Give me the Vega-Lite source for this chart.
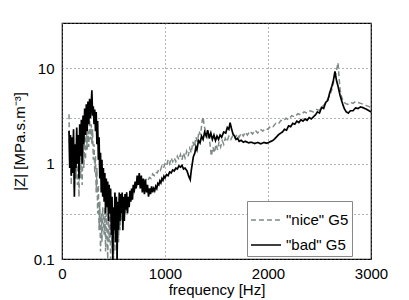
{
  "$schema": "https://vega.github.io/schema/vega-lite/v6.json",
  "width": 309,
  "height": 236,
  "autosize": "none",
  "padding": {"left": 62, "top": 23, "right": 38, "bottom": 41},
  "background": "white",
  "config": {
    "font": "Liberation Sans",
    "view": {"stroke": "#000", "strokeWidth": 1.2},
    "axis": {"labelFont": "Liberation Sans", "titleFont": "Liberation Sans", "labelFontSize": 15, "titleFontSize": 15, "titleFontWeight": "normal", "labelColor": "#000", "titleColor": "#000", "domain": false, "ticks": false, "grid": true, "gridColor": "#666", "gridDash": [1, 3], "gridWidth": 1, "gridOpacity": 1}
  },
  "datasets": {
    "d": [
      {"f":68,"z":3.3,"s":"nice"},{"f":75,"z":1.0,"s":"nice"},{"f":82,"z":1.8,"s":"nice"},{"f":90,"z":0.6,"s":"nice"},{"f":97,"z":1.5,"s":"nice"},{"f":104,"z":0.9,"s":"nice"},{"f":112,"z":1.6,"s":"nice"},{"f":120,"z":0.55,"s":"nice"},{"f":128,"z":1.2,"s":"nice"},{"f":135,"z":0.7,"s":"nice"},{"f":143,"z":1.5,"s":"nice"},{"f":150,"z":0.6,"s":"nice"},{"f":158,"z":1.2,"s":"nice"},{"f":165,"z":0.45,"s":"nice"},{"f":172,"z":1.3,"s":"nice"},{"f":180,"z":0.7,"s":"nice"},{"f":188,"z":1.5,"s":"nice"},{"f":196,"z":0.6,"s":"nice"},{"f":204,"z":1.8,"s":"nice"},{"f":212,"z":0.9,"s":"nice"},{"f":220,"z":2.0,"s":"nice"},{"f":228,"z":1.1,"s":"nice"},{"f":236,"z":2.5,"s":"nice"},{"f":244,"z":1.4,"s":"nice"},{"f":252,"z":2.2,"s":"nice"},{"f":260,"z":1.5,"s":"nice"},{"f":268,"z":2.9,"s":"nice"},{"f":276,"z":1.8,"s":"nice"},{"f":284,"z":2.6,"s":"nice"},{"f":290,"z":1.6,"s":"nice"},{"f":297,"z":2.3,"s":"nice"},{"f":304,"z":1.1,"s":"nice"},{"f":311,"z":1.6,"s":"nice"},{"f":318,"z":0.8,"s":"nice"},{"f":325,"z":1.2,"s":"nice"},{"f":332,"z":0.5,"s":"nice"},{"f":339,"z":0.9,"s":"nice"},{"f":346,"z":0.3,"s":"nice"},{"f":353,"z":0.6,"s":"nice"},{"f":360,"z":0.2,"s":"nice"},{"f":367,"z":0.4,"s":"nice"},{"f":374,"z":0.12,"s":"nice"},{"f":381,"z":0.3,"s":"nice"},{"f":388,"z":0.15,"s":"nice"},{"f":395,"z":0.35,"s":"nice"},{"f":402,"z":0.25,"s":"nice"},{"f":409,"z":0.18,"s":"nice"},{"f":416,"z":0.35,"s":"nice"},{"f":423,"z":0.12,"s":"nice"},{"f":430,"z":0.3,"s":"nice"},{"f":437,"z":0.2,"s":"nice"},{"f":444,"z":0.1,"s":"nice"},{"f":451,"z":0.28,"s":"nice"},{"f":458,"z":0.15,"s":"nice"},{"f":465,"z":0.35,"s":"nice"},{"f":472,"z":0.1,"s":"nice"},{"f":479,"z":0.3,"s":"nice"},{"f":486,"z":0.13,"s":"nice"},{"f":493,"z":0.25,"s":"nice"},{"f":500,"z":0.1,"s":"nice"},{"f":507,"z":0.3,"s":"nice"},{"f":514,"z":0.12,"s":"nice"},{"f":521,"z":0.35,"s":"nice"},{"f":528,"z":0.2,"s":"nice"},{"f":535,"z":0.1,"s":"nice"},{"f":542,"z":0.3,"s":"nice"},{"f":549,"z":0.15,"s":"nice"},{"f":556,"z":0.35,"s":"nice"},{"f":563,"z":0.2,"s":"nice"},{"f":570,"z":0.38,"s":"nice"},{"f":577,"z":0.25,"s":"nice"},{"f":584,"z":0.4,"s":"nice"},{"f":591,"z":0.28,"s":"nice"},{"f":598,"z":0.42,"s":"nice"},{"f":605,"z":0.3,"s":"nice"},{"f":612,"z":0.35,"s":"nice"},{"f":620,"z":0.3,"s":"nice"},{"f":630,"z":0.35,"s":"nice"},{"f":640,"z":0.38,"s":"nice"},{"f":650,"z":0.42,"s":"nice"},{"f":660,"z":0.4,"s":"nice"},{"f":670,"z":0.45,"s":"nice"},{"f":680,"z":0.48,"s":"nice"},{"f":690,"z":0.53,"s":"nice"},{"f":700,"z":0.5,"s":"nice"},{"f":715,"z":0.56,"s":"nice"},{"f":730,"z":0.6,"s":"nice"},{"f":745,"z":0.58,"s":"nice"},{"f":760,"z":0.63,"s":"nice"},{"f":775,"z":0.62,"s":"nice"},{"f":790,"z":0.66,"s":"nice"},{"f":805,"z":0.64,"s":"nice"},{"f":820,"z":0.7,"s":"nice"},{"f":835,"z":0.67,"s":"nice"},{"f":850,"z":0.72,"s":"nice"},{"f":865,"z":0.7,"s":"nice"},{"f":880,"z":0.78,"s":"nice"},{"f":895,"z":0.75,"s":"nice"},{"f":910,"z":0.82,"s":"nice"},{"f":925,"z":0.8,"s":"nice"},{"f":940,"z":0.88,"s":"nice"},{"f":955,"z":0.85,"s":"nice"},{"f":970,"z":0.95,"s":"nice"},{"f":985,"z":0.9,"s":"nice"},{"f":1000,"z":1.0,"s":"nice"},{"f":1015,"z":0.95,"s":"nice"},{"f":1030,"z":1.1,"s":"nice"},{"f":1045,"z":1.0,"s":"nice"},{"f":1060,"z":1.15,"s":"nice"},{"f":1075,"z":1.05,"s":"nice"},{"f":1090,"z":1.15,"s":"nice"},{"f":1105,"z":1.05,"s":"nice"},{"f":1120,"z":1.2,"s":"nice"},{"f":1135,"z":1.1,"s":"nice"},{"f":1150,"z":1.25,"s":"nice"},{"f":1165,"z":1.1,"s":"nice"},{"f":1180,"z":1.3,"s":"nice"},{"f":1195,"z":1.15,"s":"nice"},{"f":1210,"z":1.35,"s":"nice"},{"f":1225,"z":1.2,"s":"nice"},{"f":1240,"z":1.45,"s":"nice"},{"f":1255,"z":1.3,"s":"nice"},{"f":1270,"z":1.7,"s":"nice"},{"f":1285,"z":1.5,"s":"nice"},{"f":1300,"z":1.9,"s":"nice"},{"f":1315,"z":1.7,"s":"nice"},{"f":1330,"z":2.2,"s":"nice"},{"f":1345,"z":2.0,"s":"nice"},{"f":1360,"z":2.8,"s":"nice"},{"f":1370,"z":3.1,"s":"nice"},{"f":1380,"z":2.5,"s":"nice"},{"f":1395,"z":2.2,"s":"nice"},{"f":1410,"z":1.9,"s":"nice"},{"f":1425,"z":2.1,"s":"nice"},{"f":1437,"z":1.6,"s":"nice"},{"f":1450,"z":1.2,"s":"nice"},{"f":1465,"z":1.5,"s":"nice"},{"f":1480,"z":1.3,"s":"nice"},{"f":1495,"z":1.6,"s":"nice"},{"f":1510,"z":1.4,"s":"nice"},{"f":1525,"z":1.7,"s":"nice"},{"f":1540,"z":1.5,"s":"nice"},{"f":1555,"z":1.75,"s":"nice"},{"f":1570,"z":1.6,"s":"nice"},{"f":1585,"z":1.85,"s":"nice"},{"f":1600,"z":1.7,"s":"nice"},{"f":1620,"z":1.95,"s":"nice"},{"f":1640,"z":1.8,"s":"nice"},{"f":1660,"z":2.0,"s":"nice"},{"f":1680,"z":1.85,"s":"nice"},{"f":1700,"z":2.05,"s":"nice"},{"f":1720,"z":1.9,"s":"nice"},{"f":1740,"z":2.1,"s":"nice"},{"f":1760,"z":1.95,"s":"nice"},{"f":1780,"z":2.15,"s":"nice"},{"f":1800,"z":2.0,"s":"nice"},{"f":1825,"z":2.2,"s":"nice"},{"f":1850,"z":2.05,"s":"nice"},{"f":1875,"z":2.25,"s":"nice"},{"f":1900,"z":2.1,"s":"nice"},{"f":1925,"z":2.3,"s":"nice"},{"f":1950,"z":2.2,"s":"nice"},{"f":1975,"z":2.35,"s":"nice"},{"f":2000,"z":2.3,"s":"nice"},{"f":2025,"z":2.5,"s":"nice"},{"f":2050,"z":2.45,"s":"nice"},{"f":2075,"z":2.65,"s":"nice"},{"f":2100,"z":2.6,"s":"nice"},{"f":2125,"z":2.85,"s":"nice"},{"f":2150,"z":2.8,"s":"nice"},{"f":2175,"z":3.0,"s":"nice"},{"f":2200,"z":2.9,"s":"nice"},{"f":2230,"z":3.2,"s":"nice"},{"f":2260,"z":3.1,"s":"nice"},{"f":2290,"z":3.35,"s":"nice"},{"f":2320,"z":3.25,"s":"nice"},{"f":2350,"z":3.5,"s":"nice"},{"f":2380,"z":3.4,"s":"nice"},{"f":2410,"z":3.6,"s":"nice"},{"f":2440,"z":3.5,"s":"nice"},{"f":2470,"z":3.7,"s":"nice"},{"f":2500,"z":3.65,"s":"nice"},{"f":2530,"z":4.0,"s":"nice"},{"f":2560,"z":4.3,"s":"nice"},{"f":2580,"z":4.8,"s":"nice"},{"f":2600,"z":5.2,"s":"nice"},{"f":2620,"z":6.0,"s":"nice"},{"f":2640,"z":7.5,"s":"nice"},{"f":2660,"z":9.0,"s":"nice"},{"f":2680,"z":11.5,"s":"nice"},{"f":2690,"z":8.0,"s":"nice"},{"f":2700,"z":6.0,"s":"nice"},{"f":2715,"z":5.0,"s":"nice"},{"f":2730,"z":4.6,"s":"nice"},{"f":2750,"z":4.3,"s":"nice"},{"f":2775,"z":4.2,"s":"nice"},{"f":2800,"z":4.4,"s":"nice"},{"f":2825,"z":4.3,"s":"nice"},{"f":2850,"z":4.5,"s":"nice"},{"f":2875,"z":4.4,"s":"nice"},{"f":2900,"z":4.3,"s":"nice"},{"f":2925,"z":4.2,"s":"nice"},{"f":2950,"z":4.1,"s":"nice"},{"f":2975,"z":4.0,"s":"nice"},{"f":3000,"z":3.9,"s":"nice"},
      {"f":68,"z":2.2,"s":"bad"},{"f":75,"z":0.9,"s":"bad"},{"f":82,"z":2.0,"s":"bad"},{"f":90,"z":0.75,"s":"bad"},{"f":97,"z":1.9,"s":"bad"},{"f":104,"z":0.8,"s":"bad"},{"f":112,"z":2.3,"s":"bad"},{"f":120,"z":0.45,"s":"bad"},{"f":128,"z":1.6,"s":"bad"},{"f":135,"z":0.9,"s":"bad"},{"f":143,"z":2.4,"s":"bad"},{"f":150,"z":1.0,"s":"bad"},{"f":158,"z":2.0,"s":"bad"},{"f":165,"z":0.7,"s":"bad"},{"f":172,"z":2.6,"s":"bad"},{"f":180,"z":1.2,"s":"bad"},{"f":188,"z":2.9,"s":"bad"},{"f":196,"z":1.0,"s":"bad"},{"f":204,"z":3.2,"s":"bad"},{"f":212,"z":1.6,"s":"bad"},{"f":220,"z":3.8,"s":"bad"},{"f":228,"z":2.0,"s":"bad"},{"f":236,"z":4.2,"s":"bad"},{"f":244,"z":2.2,"s":"bad"},{"f":252,"z":4.5,"s":"bad"},{"f":260,"z":2.6,"s":"bad"},{"f":268,"z":4.8,"s":"bad"},{"f":276,"z":3.0,"s":"bad"},{"f":284,"z":4.3,"s":"bad"},{"f":290,"z":5.9,"s":"bad"},{"f":297,"z":3.2,"s":"bad"},{"f":304,"z":4.0,"s":"bad"},{"f":311,"z":2.6,"s":"bad"},{"f":318,"z":3.7,"s":"bad"},{"f":325,"z":2.2,"s":"bad"},{"f":332,"z":3.5,"s":"bad"},{"f":339,"z":1.6,"s":"bad"},{"f":346,"z":2.8,"s":"bad"},{"f":353,"z":1.1,"s":"bad"},{"f":360,"z":1.9,"s":"bad"},{"f":367,"z":0.7,"s":"bad"},{"f":374,"z":1.3,"s":"bad"},{"f":381,"z":0.5,"s":"bad"},{"f":388,"z":1.1,"s":"bad"},{"f":395,"z":0.45,"s":"bad"},{"f":402,"z":0.9,"s":"bad"},{"f":409,"z":0.4,"s":"bad"},{"f":416,"z":0.8,"s":"bad"},{"f":423,"z":0.3,"s":"bad"},{"f":430,"z":0.7,"s":"bad"},{"f":437,"z":0.35,"s":"bad"},{"f":444,"z":0.65,"s":"bad"},{"f":451,"z":0.25,"s":"bad"},{"f":458,"z":0.6,"s":"bad"},{"f":465,"z":0.3,"s":"bad"},{"f":472,"z":0.55,"s":"bad"},{"f":479,"z":0.18,"s":"bad"},{"f":486,"z":0.45,"s":"bad"},{"f":493,"z":0.1,"s":"bad"},{"f":500,"z":0.35,"s":"bad"},{"f":507,"z":0.2,"s":"bad"},{"f":514,"z":0.5,"s":"bad"},{"f":521,"z":0.15,"s":"bad"},{"f":528,"z":0.45,"s":"bad"},{"f":535,"z":0.1,"s":"bad"},{"f":542,"z":0.4,"s":"bad"},{"f":549,"z":0.2,"s":"bad"},{"f":556,"z":0.5,"s":"bad"},{"f":563,"z":0.25,"s":"bad"},{"f":570,"z":0.48,"s":"bad"},{"f":577,"z":0.3,"s":"bad"},{"f":584,"z":0.5,"s":"bad"},{"f":591,"z":0.2,"s":"bad"},{"f":598,"z":0.45,"s":"bad"},{"f":605,"z":0.25,"s":"bad"},{"f":612,"z":0.48,"s":"bad"},{"f":620,"z":0.33,"s":"bad"},{"f":628,"z":0.5,"s":"bad"},{"f":636,"z":0.3,"s":"bad"},{"f":644,"z":0.45,"s":"bad"},{"f":652,"z":0.35,"s":"bad"},{"f":660,"z":0.52,"s":"bad"},{"f":668,"z":0.4,"s":"bad"},{"f":676,"z":0.55,"s":"bad"},{"f":684,"z":0.42,"s":"bad"},{"f":692,"z":0.6,"s":"bad"},{"f":700,"z":0.5,"s":"bad"},{"f":710,"z":0.65,"s":"bad"},{"f":720,"z":0.55,"s":"bad"},{"f":730,"z":0.75,"s":"bad"},{"f":740,"z":0.6,"s":"bad"},{"f":750,"z":0.8,"s":"bad"},{"f":760,"z":0.55,"s":"bad"},{"f":770,"z":0.75,"s":"bad"},{"f":780,"z":0.5,"s":"bad"},{"f":790,"z":0.7,"s":"bad"},{"f":800,"z":0.48,"s":"bad"},{"f":810,"z":0.68,"s":"bad"},{"f":820,"z":0.5,"s":"bad"},{"f":830,"z":0.6,"s":"bad"},{"f":840,"z":0.45,"s":"bad"},{"f":850,"z":0.55,"s":"bad"},{"f":860,"z":0.48,"s":"bad"},{"f":870,"z":0.58,"s":"bad"},{"f":880,"z":0.5,"s":"bad"},{"f":890,"z":0.55,"s":"bad"},{"f":900,"z":0.52,"s":"bad"},{"f":910,"z":0.58,"s":"bad"},{"f":920,"z":0.55,"s":"bad"},{"f":930,"z":0.62,"s":"bad"},{"f":940,"z":0.6,"s":"bad"},{"f":950,"z":0.66,"s":"bad"},{"f":960,"z":0.63,"s":"bad"},{"f":970,"z":0.7,"s":"bad"},{"f":980,"z":0.67,"s":"bad"},{"f":990,"z":0.74,"s":"bad"},{"f":1000,"z":0.71,"s":"bad"},{"f":1015,"z":0.77,"s":"bad"},{"f":1030,"z":0.75,"s":"bad"},{"f":1045,"z":0.82,"s":"bad"},{"f":1060,"z":0.8,"s":"bad"},{"f":1075,"z":0.86,"s":"bad"},{"f":1090,"z":0.84,"s":"bad"},{"f":1105,"z":0.9,"s":"bad"},{"f":1120,"z":0.88,"s":"bad"},{"f":1135,"z":0.95,"s":"bad"},{"f":1150,"z":0.92,"s":"bad"},{"f":1165,"z":0.96,"s":"bad"},{"f":1180,"z":0.88,"s":"bad"},{"f":1195,"z":0.9,"s":"bad"},{"f":1214,"z":0.84,"s":"bad"},{"f":1230,"z":0.74,"s":"bad"},{"f":1245,"z":0.68,"s":"bad"},{"f":1255,"z":0.85,"s":"bad"},{"f":1265,"z":1.0,"s":"bad"},{"f":1275,"z":1.18,"s":"bad"},{"f":1290,"z":1.3,"s":"bad"},{"f":1300,"z":1.5,"s":"bad"},{"f":1310,"z":1.4,"s":"bad"},{"f":1325,"z":1.75,"s":"bad"},{"f":1340,"z":1.65,"s":"bad"},{"f":1355,"z":1.95,"s":"bad"},{"f":1370,"z":1.8,"s":"bad"},{"f":1385,"z":2.15,"s":"bad"},{"f":1400,"z":1.95,"s":"bad"},{"f":1415,"z":2.25,"s":"bad"},{"f":1430,"z":1.85,"s":"bad"},{"f":1445,"z":2.1,"s":"bad"},{"f":1460,"z":1.8,"s":"bad"},{"f":1475,"z":2.0,"s":"bad"},{"f":1490,"z":1.75,"s":"bad"},{"f":1505,"z":1.95,"s":"bad"},{"f":1520,"z":1.8,"s":"bad"},{"f":1535,"z":2.0,"s":"bad"},{"f":1550,"z":1.9,"s":"bad"},{"f":1570,"z":2.15,"s":"bad"},{"f":1590,"z":2.1,"s":"bad"},{"f":1605,"z":2.4,"s":"bad"},{"f":1620,"z":2.3,"s":"bad"},{"f":1632,"z":2.7,"s":"bad"},{"f":1645,"z":2.35,"s":"bad"},{"f":1660,"z":2.05,"s":"bad"},{"f":1675,"z":1.95,"s":"bad"},{"f":1690,"z":1.8,"s":"bad"},{"f":1705,"z":1.85,"s":"bad"},{"f":1720,"z":1.72,"s":"bad"},{"f":1740,"z":1.76,"s":"bad"},{"f":1760,"z":1.68,"s":"bad"},{"f":1780,"z":1.72,"s":"bad"},{"f":1810,"z":1.66,"s":"bad"},{"f":1840,"z":1.68,"s":"bad"},{"f":1870,"z":1.63,"s":"bad"},{"f":1900,"z":1.67,"s":"bad"},{"f":1930,"z":1.62,"s":"bad"},{"f":1960,"z":1.67,"s":"bad"},{"f":1990,"z":1.64,"s":"bad"},{"f":2020,"z":1.7,"s":"bad"},{"f":2050,"z":1.76,"s":"bad"},{"f":2080,"z":1.9,"s":"bad"},{"f":2110,"z":2.05,"s":"bad"},{"f":2140,"z":2.15,"s":"bad"},{"f":2160,"z":2.3,"s":"bad"},{"f":2180,"z":2.25,"s":"bad"},{"f":2200,"z":2.5,"s":"bad"},{"f":2220,"z":2.45,"s":"bad"},{"f":2240,"z":2.65,"s":"bad"},{"f":2260,"z":2.6,"s":"bad"},{"f":2280,"z":2.8,"s":"bad"},{"f":2300,"z":2.7,"s":"bad"},{"f":2320,"z":2.9,"s":"bad"},{"f":2340,"z":2.8,"s":"bad"},{"f":2360,"z":2.95,"s":"bad"},{"f":2380,"z":2.85,"s":"bad"},{"f":2400,"z":3.05,"s":"bad"},{"f":2420,"z":2.95,"s":"bad"},{"f":2440,"z":3.1,"s":"bad"},{"f":2460,"z":3.25,"s":"bad"},{"f":2480,"z":3.5,"s":"bad"},{"f":2500,"z":3.4,"s":"bad"},{"f":2520,"z":3.9,"s":"bad"},{"f":2540,"z":3.8,"s":"bad"},{"f":2560,"z":4.4,"s":"bad"},{"f":2580,"z":4.6,"s":"bad"},{"f":2600,"z":5.6,"s":"bad"},{"f":2620,"z":6.5,"s":"bad"},{"f":2635,"z":7.5,"s":"bad"},{"f":2650,"z":9.3,"s":"bad"},{"f":2665,"z":7.5,"s":"bad"},{"f":2680,"z":6.5,"s":"bad"},{"f":2700,"z":5.2,"s":"bad"},{"f":2720,"z":4.4,"s":"bad"},{"f":2740,"z":3.8,"s":"bad"},{"f":2760,"z":3.5,"s":"bad"},{"f":2780,"z":3.4,"s":"bad"},{"f":2800,"z":3.6,"s":"bad"},{"f":2825,"z":3.6,"s":"bad"},{"f":2850,"z":3.85,"s":"bad"},{"f":2875,"z":3.8,"s":"bad"},{"f":2900,"z":3.95,"s":"bad"},{"f":2930,"z":3.85,"s":"bad"},{"f":2960,"z":3.7,"s":"bad"},{"f":2990,"z":3.55,"s":"bad"},{"f":3000,"z":3.5,"s":"bad"}
    ]
  },
  "data": {"name": "d"},
  "encoding": {
    "x": {"field": "f", "type": "quantitative", "scale": {"domain": [0, 3000], "nice": false}, "axis": {"title": "frequency [Hz]", "values": [0, 1000, 2000, 3000], "format": "d", "labelPadding": 7, "titlePadding": 1, "labelFlush": false}},
    "y": {"field": "z", "type": "quantitative", "scale": {"type": "log", "domain": [0.1, 30], "nice": false}, "axis": {"title": "|Z| [MPa.s.m⁻³]", "values": [0.1, 0.3, 1, 3, 10, 30], "labelExpr": "datum.value == 0.1 ? '0.1' : datum.value == 1 ? '1' : datum.value == 10 ? '10' : ''", "labelPadding": 8, "titlePadding": 6, "labelFlush": false}},
    "color": {"field": "s", "type": "nominal", "scale": {"domain": ["nice", "bad"], "range": ["#7f8b88", "#000000"]}, "legend": {"title": null, "orient": "none", "legendX": 185, "legendY": 178, "labelExpr": "'\"' + datum.label + '\" G5'", "labelFont": "Liberation Sans", "labelFontSize": 15, "labelColor": "#000", "symbolType": "stroke", "symbolSize": 900, "symbolStrokeWidth": 1.5, "strokeColor": "#888", "fillColor": "white", "padding": 3, "rowPadding": 1, "labelOffset": 4}},
    "strokeDash": {"field": "s", "type": "nominal", "scale": {"domain": ["nice", "bad"], "range": [[5, 3], [1, 0]]}, "legend": null}
  },
  "layer": [
    {"transform": [{"filter": "datum.s == 'nice'"}], "mark": {"type": "line", "strokeWidth": 1.5, "clip": true}},
    {"transform": [{"filter": "datum.s == 'bad'"}], "mark": {"type": "line", "strokeWidth": 1.7, "clip": true}}
  ]
}
